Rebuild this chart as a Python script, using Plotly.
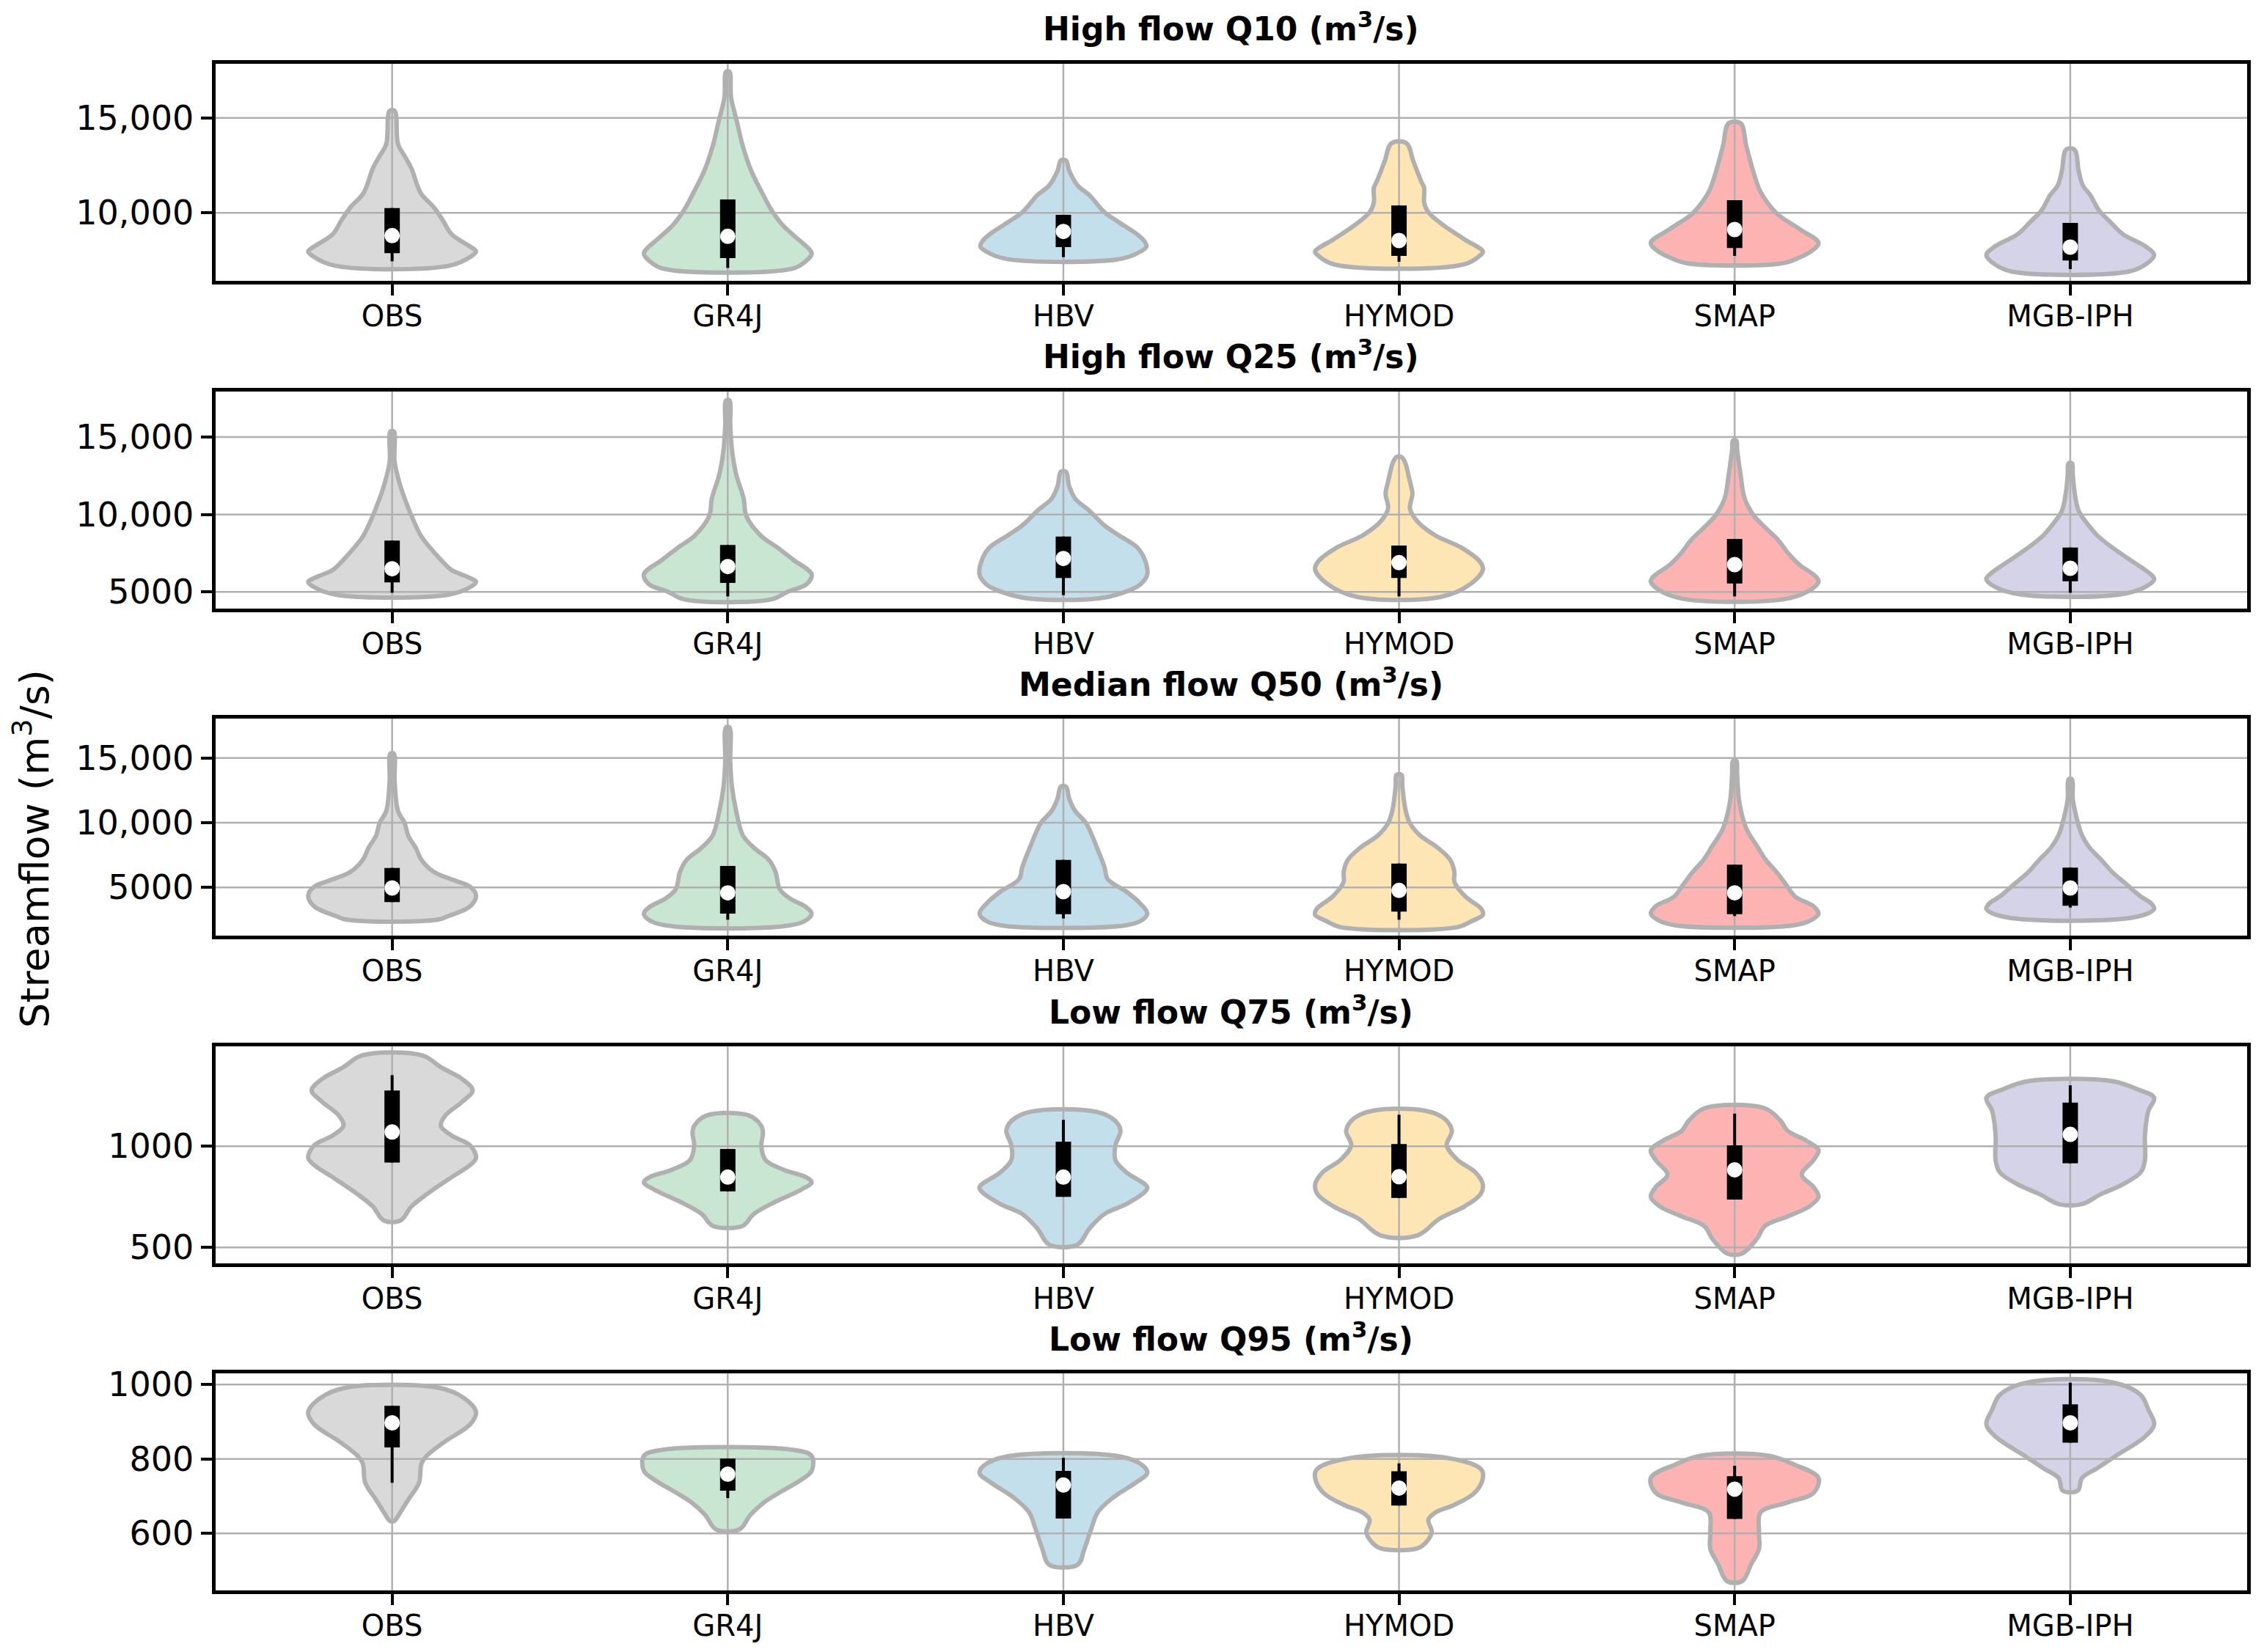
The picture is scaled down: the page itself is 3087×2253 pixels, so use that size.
import plotly.graph_objects as go

MODELS = ["OBS", "GR4J", "HBV", "HYMOD", "SMAP", "MGB-IPH"]
FILLS = ["#d9d9d9", "#c8e6d1", "#c3dfec", "#fee5b4", "#feb3b3", "#d5d3e7"]
EDGE = "#b0b0b0"

# violin profiles: flow levels (m3/s) and relative density (1 = widest part)
Q10_FLOW = {
    "OBS": [7220, 7710, 7970, 8230, 8870, 9640, 10280, 11050, 12340, 12980, 13620, 15360],
    "GR4J": [7070, 7460, 7840, 8100, 8610, 9380, 10150, 11050, 12210, 13500, 14780, 16070, 17420],
    "HBV": [7580, 7970, 8230, 8480, 8870, 9510, 10030, 10930, 11440, 12210, 12760],
    "HYMOD": [7290, 7780, 7970, 8610, 9380, 10030, 10540, 11310, 11700, 12730, 13660],
    "SMAP": [7350, 7650, 7970, 8420, 9130, 9900, 10540, 11180, 12210, 13500, 14720],
    "MGB-IPH": [6920, 7330, 7780, 8230, 8870, 9510, 10150, 10930, 11440, 12210, 13330],
}
Q10_DENS = {
    "OBS": [0.68, 0.94, 1.0, 0.93, 0.71, 0.60, 0.50, 0.34, 0.23, 0.15, 0.07, 0.03],
    "GR4J": [0.77, 0.93, 1.0, 0.97, 0.84, 0.65, 0.52, 0.41, 0.28, 0.18, 0.11, 0.04, 0.02],
    "HBV": [0.68, 0.92, 0.99, 0.97, 0.88, 0.66, 0.49, 0.31, 0.17, 0.07, 0.03],
    "HYMOD": [0.77, 0.97, 1.0, 0.78, 0.52, 0.35, 0.30, 0.30, 0.26, 0.17, 0.09],
    "SMAP": [0.57, 0.77, 0.91, 1.0, 0.78, 0.52, 0.39, 0.30, 0.22, 0.14, 0.07],
    "MGB-IPH": [0.70, 0.91, 1.0, 0.90, 0.63, 0.48, 0.34, 0.24, 0.15, 0.10, 0.05],
}
Q10_MEDIAN = [8805, 8766, 9023, 8548, 9126, 8201]
Q10_Q1 = [7879, 7622, 8201, 7738, 8149, 7494]
Q10_Q3 = [10257, 10707, 9897, 10386, 10668, 9473]
Q10_WLO = [7455, 7108, 7674, 7430, 7738, 7044]
Q10_WHI = [10257, 10707, 9897, 10386, 10668, 9473]

Q25_FLOW = {
    "OBS": [4827, 5348, 5663, 5900, 6452, 7083, 7871, 8659, 9921, 11025, 11814, 13391, 15362],
    "GR4J": [4528, 5033, 5506, 6137, 7083, 7871, 8659, 9921, 11025, 12602, 14179, 15756, 17365],
    "HBV": [4591, 5033, 5506, 6137, 7083, 7871, 8659, 9290, 10237, 11025, 11814, 12760],
    "HYMOD": [4686, 5506, 6452, 6925, 7871, 8659, 9606, 10394, 11340, 12129, 13391, 13706],
    "SMAP": [4528, 5033, 5663, 5979, 6767, 7556, 8344, 9133, 9921, 11025, 12602, 14179, 14778],
    "MGB-IPH": [4843, 5348, 5821, 6137, 7083, 7871, 8659, 9290, 10237, 11498, 12602, 13312],
}
Q25_DENS = {
    "OBS": [0.67, 0.94, 1.0, 0.93, 0.70, 0.58, 0.45, 0.34, 0.23, 0.15, 0.10, 0.03, 0.02],
    "GR4J": [0.52, 0.72, 0.94, 1.0, 0.78, 0.59, 0.39, 0.22, 0.19, 0.10, 0.05, 0.03, 0.02],
    "HBV": [0.43, 0.75, 0.92, 1.0, 0.97, 0.88, 0.66, 0.49, 0.31, 0.14, 0.07, 0.03],
    "HYMOD": [0.50, 0.85, 1.0, 0.97, 0.74, 0.43, 0.21, 0.13, 0.16, 0.13, 0.07, 0.03],
    "SMAP": [0.58, 0.87, 1.0, 0.97, 0.77, 0.63, 0.52, 0.37, 0.23, 0.12, 0.07, 0.03, 0.02],
    "MGB-IPH": [0.59, 0.90, 1.0, 0.96, 0.71, 0.50, 0.32, 0.22, 0.10, 0.05, 0.03, 0.02],
}
Q25_MEDIAN = [6499, 6641, 7161, 6893, 6767, 6531]
Q25_Q1 = [5616, 5584, 5900, 5900, 5553, 5695]
Q25_Q3 = [8313, 8029, 8581, 7997, 8423, 7871]
Q25_WLO = [4950, 4717, 4796, 4717, 4717, 4950]
Q25_WHI = [8313, 8029, 8581, 7997, 8423, 7871]

Q50_FLOW = {
    "OBS": [2497, 2780, 3536, 4387, 5048, 5615, 6182, 7127, 8072, 9017, 9962, 10907, 13175, 15349],
    "GR4J": [1986, 2402, 2969, 3536, 4103, 4859, 6182, 7127, 8072, 9017, 10907, 12797, 14687, 17371],
    "HBV": [2024, 2402, 2969, 3725, 4670, 5615, 6560, 8072, 9962, 10907, 11852, 12797],
    "HYMOD": [1930, 2402, 2875, 3347, 4292, 5426, 6182, 7127, 8072, 9017, 9962, 10907, 12797, 13704],
    "SMAP": [2062, 2497, 2969, 3536, 4292, 5237, 6182, 7127, 8261, 9395, 10529, 11852, 13742, 14782],
    "MGB-IPH": [2553, 2969, 3347, 3725, 4292, 5237, 6182, 7127, 8072, 9017, 10529, 11852, 13364],
}
Q50_DENS = {
    "OBS": [0.54, 0.67, 0.93, 1.0, 0.93, 0.71, 0.50, 0.35, 0.28, 0.19, 0.15, 0.07, 0.03, 0.02],
    "GR4J": [0.66, 0.92, 1.0, 0.92, 0.75, 0.62, 0.57, 0.49, 0.31, 0.18, 0.10, 0.05, 0.03, 0.02],
    "HBV": [0.70, 0.92, 1.0, 0.92, 0.75, 0.53, 0.49, 0.40, 0.27, 0.14, 0.07, 0.03],
    "HYMOD": [0.70, 0.87, 1.0, 0.98, 0.79, 0.66, 0.66, 0.61, 0.46, 0.25, 0.13, 0.08, 0.04, 0.03],
    "SMAP": [0.70, 0.92, 1.0, 0.94, 0.72, 0.61, 0.50, 0.37, 0.26, 0.15, 0.09, 0.05, 0.03, 0.02],
    "MGB-IPH": [0.61, 0.92, 1.0, 0.97, 0.84, 0.67, 0.50, 0.37, 0.23, 0.14, 0.07, 0.03, 0.02],
}
Q50_MEDIAN = [4954, 4576, 4670, 4765, 4576, 4954]
Q50_Q1 = [3858, 2969, 2931, 3120, 2931, 3574]
Q50_Q3 = [6504, 6655, 7127, 6844, 6749, 6522]
Q50_WLO = [3858, 2497, 2591, 2497, 2780, 3442]
Q50_WHI = [6504, 6655, 7127, 6844, 6749, 6522]

Q75_FLOW = {
    "OBS": [633, 702, 762, 847, 907, 943, 1004, 1052, 1100, 1149, 1221, 1275, 1330, 1390, 1448],
    "GR4J": [607, 665, 726, 786, 822, 847, 883, 931, 1004, 1064, 1100, 1152],
    "HBV": [514, 593, 665, 714, 774, 798, 871, 931, 1004, 1076, 1124, 1170],
    "HYMOD": [559, 641, 702, 762, 810, 871, 931, 1004, 1076, 1136, 1176],
    "SMAP": [470, 545, 605, 653, 702, 750, 798, 859, 931, 979, 1028, 1076, 1124, 1187],
    "MGB-IPH": [714, 762, 810, 871, 931, 1052, 1173, 1239, 1281, 1321],
}
Q75_DENS = {
    "OBS": [0.10, 0.23, 0.41, 0.71, 0.93, 1.0, 0.93, 0.71, 0.58, 0.63, 0.84, 0.96, 0.84, 0.58, 0.36],
    "GR4J": [0.18, 0.31, 0.57, 0.88, 1.0, 0.93, 0.67, 0.45, 0.40, 0.42, 0.40, 0.25],
    "HBV": [0.17, 0.31, 0.49, 0.75, 0.97, 1.0, 0.75, 0.62, 0.62, 0.68, 0.62, 0.39],
    "HYMOD": [0.22, 0.48, 0.78, 0.97, 1.0, 0.91, 0.70, 0.57, 0.63, 0.54, 0.30],
    "SMAP": [0.09, 0.27, 0.36, 0.63, 0.89, 1.0, 0.94, 0.80, 0.94, 1.0, 0.85, 0.63, 0.55, 0.36],
    "MGB-IPH": [0.14, 0.36, 0.62, 0.84, 0.89, 0.89, 0.93, 1.0, 0.80, 0.50],
}
Q75_MEDIAN = [1070, 847, 847, 849, 883, 1058]
Q75_Q1 = [919, 777, 750, 744, 736, 915]
Q75_Q3 = [1275, 986, 1022, 1010, 1004, 1215]
Q75_WLO = [919, 777, 750, 744, 736, 915]
Q75_WHI = [1351, 986, 1130, 1155, 1161, 1300]

Q95_FLOW = {
    "OBS": [634, 650, 690, 736, 788, 808, 847, 893, 926, 966, 992],
    "GR4J": [611, 650, 683, 709, 742, 768, 808, 824],
    "HBV": [516, 558, 611, 657, 696, 736, 762, 782, 807],
    "HYMOD": [560, 578, 604, 637, 657, 677, 709, 749, 772, 803],
    "SMAP": [472, 519, 558, 604, 657, 683, 709, 749, 785, 809],
    "MGB-IPH": [715, 749, 775, 808, 860, 893, 933, 972, 1006],
}
Q95_DENS = {
    "OBS": [0.03, 0.08, 0.19, 0.32, 0.35, 0.41, 0.63, 0.93, 1.0, 0.84, 0.54],
    "GR4J": [0.14, 0.27, 0.43, 0.61, 0.86, 1.0, 1.0, 0.80],
    "HBV": [0.17, 0.25, 0.33, 0.41, 0.59, 0.86, 1.0, 0.95, 0.67],
    "HYMOD": [0.22, 0.33, 0.39, 0.35, 0.44, 0.66, 0.90, 1.0, 0.98, 0.57],
    "SMAP": [0.09, 0.20, 0.29, 0.29, 0.31, 0.63, 0.94, 1.0, 0.71, 0.40],
    "MGB-IPH": [0.09, 0.14, 0.32, 0.54, 0.89, 1.0, 0.93, 0.84, 0.50],
}
Q95_MEDIAN = [897, 759, 730, 722, 719, 897]
Q95_Q1 = [831, 715, 640, 675, 639, 844]
Q95_Q3 = [943, 801, 768, 767, 754, 947]
Q95_WLO = [736, 695, 640, 675, 639, 844]
Q95_WHI = [943, 801, 803, 788, 782, 1005]

TITLES = ["High flow Q10", "High flow Q25", "Median flow Q50", "Low flow Q75", "Low flow Q95"]
TICKVALS = [[10000, 15000], [5000, 10000, 15000], [5000, 10000, 15000], [500, 1000], [600, 800, 1000]]
TICKTEXT = [["10,000", "15,000"], ["5000", "10,000", "15,000"], ["5000", "10,000", "15,000"],
            ["500", "1000"], ["600", "800", "1000"]]

PANELS = [
    (Q10_FLOW, Q10_DENS, Q10_MEDIAN, Q10_Q1, Q10_Q3, Q10_WLO, Q10_WHI, [6427, 17840]),
    (Q25_FLOW, Q25_DENS, Q25_MEDIAN, Q25_Q1, Q25_Q3, Q25_WLO, Q25_WHI, [3929, 17934]),
    (Q50_FLOW, Q50_DENS, Q50_MEDIAN, Q50_Q1, Q50_Q3, Q50_WLO, Q50_WHI, [1268, 18051]),
    (Q75_FLOW, Q75_DENS, Q75_MEDIAN, Q75_Q1, Q75_Q3, Q75_WLO, Q75_WHI, [421, 1493]),
    (Q95_FLOW, Q95_DENS, Q95_MEDIAN, Q95_Q1, Q95_Q3, Q95_WLO, Q95_WHI, [447, 1030]),
]

# page is 3087x2253; the html body adds an 8 px margin around the figure
OFF = 8
W, H = 3087 - 2 * OFF, 2253 - 2 * OFF
LEFT, RIGHT = 293.5 - OFF, 3064 - OFF
TOPS = [t - OFF for t in [87, 534, 980, 1427, 1873]]
PANEL_H = 296
XRANGE = [-0.527, 5.527]
HALF = 0.25  # max half width of a violin in category units
FONT = "DejaVu Sans"

fig = go.Figure()
annotations = []

for k, (flow, dens, med, q1, q3, wlo, whi, yrange) in enumerate(PANELS):
    n = k + 1
    xa = "x" if n == 1 else f"x{n}"
    ya = "y" if n == 1 else f"y{n}"

    # violin bodies
    for i, m in enumerate(MODELS):
        f = flow[m]
        d = dens[m]
        xs = [i + HALF * v for v in d] + [i - HALF * v for v in d[::-1]]
        ys = f + f[::-1]
        xs.append(xs[0])
        ys.append(ys[0])
        fig.add_trace(go.Scatter(
            x=xs, y=ys, xaxis=xa, yaxis=ya, mode="lines", fill="toself",
            fillcolor=FILLS[i], line=dict(color=EDGE, width=6, shape="spline", smoothing=1),
            hoverinfo="skip", showlegend=False))

    # grid drawn over the bodies, under the boxes
    gx, gy = [], []
    for v in TICKVALS[k]:
        gx += [XRANGE[0], XRANGE[1], None]
        gy += [v, v, None]
    for i in range(len(MODELS)):
        gx += [i, i, None]
        gy += [yrange[0], yrange[1], None]
    fig.add_trace(go.Scatter(x=gx, y=gy, xaxis=xa, yaxis=ya, mode="lines",
                             line=dict(color=EDGE, width=2.5), hoverinfo="skip", showlegend=False))

    wx, wy, bx, by = [], [], [], []
    for i in range(len(MODELS)):
        wx += [i, i, None]
        wy += [wlo[i], whi[i], None]
        bx += [i, i, None]
        by += [q1[i], q3[i], None]
    fig.add_trace(go.Scatter(x=wx, y=wy, xaxis=xa, yaxis=ya, mode="lines",
                             line=dict(color="black", width=4), showlegend=False))
    fig.add_trace(go.Scatter(x=bx, y=by, xaxis=xa, yaxis=ya, mode="lines",
                             line=dict(color="black", width=21), showlegend=False))
    fig.add_trace(go.Scatter(x=list(range(len(MODELS))), y=med, xaxis=xa, yaxis=ya, mode="markers",
                             marker=dict(color="white", size=21, line=dict(width=0)), showlegend=False))

    top = TOPS[k]
    dom = [1 - (top + PANEL_H) / H, 1 - top / H]
    axis_style = dict(showline=True, mirror=True, linecolor="black", linewidth=5,
                      ticks="outside", ticklen=15, tickwidth=4, tickcolor="black",
                      showgrid=False, zeroline=False, fixedrange=True, automargin=False)
    fig.update_layout({
        f"xaxis{'' if n == 1 else n}": dict(domain=[LEFT / W, RIGHT / W], range=XRANGE, anchor=ya,
                                             tickvals=list(range(len(MODELS))), ticktext=MODELS,
                                             tickfont=dict(family=FONT, size=40, color="black"),
                                             ticklabelstandoff=-6, **axis_style),
        f"yaxis{'' if n == 1 else n}": dict(domain=dom, range=yrange, anchor=xa,
                                             tickvals=TICKVALS[k], ticktext=TICKTEXT[k],
                                             tickfont=dict(family=FONT, size=46, color="black"),
                                             **axis_style),
    })
    annotations.append(dict(
        text=f"<b>{TITLES[k]} (m<sup>3</sup>/s)</b>", xref="paper", yref="paper",
        x=(LEFT + RIGHT) / 2 / W, y=1 - (top - 50) / H, xanchor="center", yanchor="middle",
        showarrow=False, font=dict(family=FONT, size=44, color="black")))

annotations.append(dict(
    text="Streamflow (m<sup>3</sup>/s)", xref="paper", yref="paper",
    x=(43 - OFF) / W, y=1 - (1158 - OFF) / H, xanchor="center", yanchor="middle", textangle=-90,
    showarrow=False, font=dict(family=FONT, size=54, color="black")))

fig.update_layout(
    width=W, height=H, autosize=False,
    margin=dict(l=0, r=0, t=0, b=0, pad=0),
    paper_bgcolor="white", plot_bgcolor="white",
    showlegend=False, annotations=annotations,
)

fig.write_html("out.html")
